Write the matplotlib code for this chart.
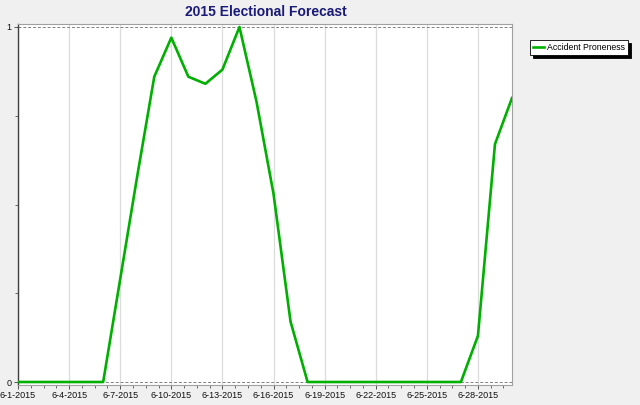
import matplotlib
matplotlib.use('Agg')
import matplotlib.pyplot as plt
from matplotlib.ticker import AutoMinorLocator, FixedLocator

# daten: tag im juni 2015 und wert
days = list(range(1, 31))
values = [0, 0, 0, 0, 0, 0,
          0.29, 0.58, 0.86, 0.97, 0.86, 0.84, 0.88, 1.0, 0.79, 0.53, 0.17, 0,
          0, 0, 0, 0, 0, 0, 0, 0, 0,
          0.13, 0.67, 0.80]
tick_days = [1, 4, 7, 10, 13, 16, 19, 22, 25, 28]
tick_labels = ['6-%d-2015' % d for d in tick_days]
series_name = 'Accident Proneness'
title = '2015 Electional Forecast'

plt.rcParams['font.family'] = ['Liberation Sans', 'DejaVu Sans']

fig = plt.figure(figsize=(6.4, 4.05), dpi=100)
fig.patch.set_facecolor('#f0f0f0')

ax = fig.add_axes([18/640, 1-385/405, (512-18)/640, (385-24)/405])
ax.set_facecolor('white')

# vertikale gitterlinien
for d in tick_days:
    ax.axvline(d, color='#dcdcdc', lw=0.9, zorder=0)
# gestrichelte linien bei 0 und 1
ax.axhline(0, color='#808080', lw=0.7, ls=(0, (3, 2)), zorder=1)
ax.axhline(1, color='#808080', lw=0.7, ls=(0, (3, 2)), zorder=1)

line, = ax.plot(days, values, color='#00b000', lw=1.9, label=series_name, zorder=3)

ax.set_xlim(1, 30)
ax.set_ylim(-3/355, 1 + 3/355)

ax.xaxis.set_major_locator(FixedLocator(tick_days))
ax.set_xticklabels(tick_labels)
ax.xaxis.set_minor_locator(AutoMinorLocator(4))
ax.set_yticks([0, 1])
ax.set_yticklabels(['0', '1'])
ax.yaxis.set_minor_locator(FixedLocator([0.25, 0.5, 0.75]))

ax.tick_params(axis='both', which='major', labelsize=6.5, colors='#555555',
               labelcolor='#111111', length=3, width=0.7, pad=1.5)
ax.tick_params(axis='both', which='minor', colors='#555555', length=2, width=0.6)

for s in ['top', 'right', 'bottom']:
    ax.spines[s].set_color('#a0a0a0')
    ax.spines[s].set_linewidth(0.8)
ax.spines['left'].set_color('#404040')
ax.spines['left'].set_linewidth(1.0)

fig.text(266/640, 1-12/405, title, ha='center', va='center',
         fontsize=10, fontweight='bold', color='#1a1a78')

leg = fig.legend(handles=[line], loc='upper left', bbox_to_anchor=(530/640, 1-40/405),
                 fontsize=6.3, frameon=True, fancybox=False, borderpad=0.35,
                 handlelength=1.3, handletextpad=0.3, borderaxespad=0,
                 shadow={'color': 'black', 'alpha': 1})
leg.get_frame().set_edgecolor('black')
leg.get_frame().set_linewidth(0.6)

fig.savefig('out.png', dpi=100, facecolor=fig.get_facecolor())
